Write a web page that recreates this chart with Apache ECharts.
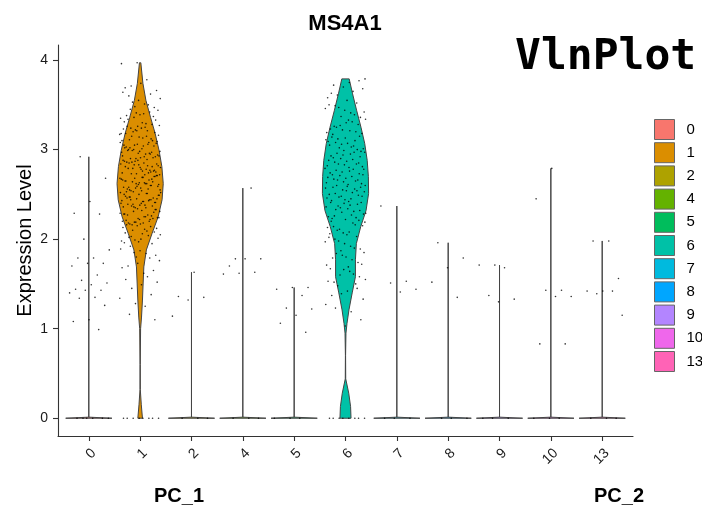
<!DOCTYPE html>
<html>
<head>
<meta charset="utf-8">
<script src="https://cdn.jsdelivr.net/npm/echarts@6/dist/echarts.min.js"></script>
<style>
  html, body { margin: 0; padding: 0; background: #fff; }
  #chart { width: 702px; height: 510px; }
</style>
</head>
<body>
<div id="chart"></div>
<script>
// Cluster identities along the x axis
const clusters = ['0', '1', '2', '4', '5', '6', '7', '8', '9', '10', '13'];
const clusterColors = ['#F8766D', '#DB8E00', '#AEA200', '#64B200', '#00BD5C', '#00C1A7',
                       '#00BADE', '#00A6FF', '#B385FF', '#EF67EB', '#FF63B6'];
const yTicks = [0, 1, 2, 3, 4];

// MS4A1 expression per cell, one array per cluster
const expr0 = [2.92, 2.68, 2.42, 2.29, 2.28, 2.00, 1.88, 1.79, 1.79, 1.73, 1.73, 1.70, 1.60, 1.54,
               1.51, 1.49, 1.44, 1.43, 1.43, 1.40, 1.35, 1.34, 1.26, 1.10, 1.08, 0.99, 0, 0, 0, 0, 0, 0];
const expr1 = [3.97, 3.96,
  3.78, 3.71, 3.66, 3.74, 3.69,
  3.62, 3.48, 3.57, 3.51, 3.60, 3.47, 3.55, 3.64, 3.50, 3.53,
  3.44, 3.30, 3.38, 3.28, 3.41, 3.35, 3.29, 3.45, 3.33, 3.39, 3.31, 3.42, 3.36, 3.27, 3.40, 3.34, 3.37,
  3.26, 3.10, 3.21, 3.15, 3.09, 3.24, 3.18, 3.12, 3.22, 3.17, 3.25, 3.11, 3.19, 3.14, 3.23, 3.08,
  3.20, 3.16, 3.13, 3.26, 3.10, 3.21, 3.18, 3.15, 3.24,
  3.07, 2.91, 3.02, 2.95, 3.05, 2.98, 2.92, 3.00, 3.04, 2.96, 2.93, 3.06, 2.99, 2.94, 3.01, 3.03,
  2.97, 2.90, 3.08, 2.95, 3.02, 2.92, 2.98, 3.05, 2.96, 3.00, 2.93, 3.04, 2.99, 2.91, 3.06, 2.97,
  2.89, 2.73, 2.84, 2.78, 2.81, 2.75, 2.87, 2.80, 2.72, 2.85, 2.77, 2.83, 2.88, 2.74, 2.79, 2.82,
  2.76, 2.86, 2.81, 2.73, 2.84, 2.78, 2.90, 2.75, 2.80, 2.87, 2.77, 2.83, 2.72, 2.85, 2.79, 2.76,
  2.88, 2.74, 2.82, 2.86,
  2.71, 2.54, 2.65, 2.60, 2.57, 2.68, 2.62, 2.55, 2.70, 2.63, 2.58, 2.66, 2.53, 2.61, 2.69, 2.56,
  2.64, 2.59, 2.67, 2.62, 2.54, 2.71, 2.57, 2.65, 2.60, 2.68, 2.55, 2.63, 2.58, 2.70, 2.61, 2.66,
  2.56, 2.64, 2.59, 2.69, 2.53, 2.67, 2.62,
  2.52, 2.35, 2.47, 2.41, 2.38, 2.50, 2.44, 2.36, 2.49, 2.42, 2.39, 2.46, 2.34, 2.43, 2.51, 2.37,
  2.45, 2.40, 2.48, 2.44, 2.35, 2.52, 2.38, 2.47, 2.41, 2.50, 2.36, 2.43, 2.39, 2.49, 2.42, 2.46,
  2.37, 2.45, 2.40, 2.51, 2.44,
  2.33, 2.17, 2.28, 2.22, 2.19, 2.31, 2.25, 2.18, 2.30, 2.23, 2.20, 2.27, 2.16, 2.24, 2.32, 2.21,
  2.26, 2.19, 2.29, 2.25, 2.17, 2.33, 2.22, 2.28, 2.20, 2.31, 2.24, 2.18, 2.27, 2.23,
  2.15, 1.98, 2.09, 2.03, 2.12, 2.00, 2.07, 2.14, 1.99, 2.05, 2.11, 2.02, 2.08, 1.97, 2.13, 2.04,
  2.10, 2.01, 2.06, 2.16,
  1.95, 1.80, 1.89, 1.84, 1.92, 1.82, 1.87, 1.96, 1.79, 1.85,
  1.76, 1.62, 1.70, 1.65, 1.73, 1.68,
  1.58, 1.45, 1.52, 1.49, 1.55,
  1.38, 1.28, 1.34, 1.25,
  1.16, 1.10,
  0, 0, 0, 0, 0, 0, 0, 0];
const expr2 = [1.63, 1.36, 1.35, 1.32, 1.14, 0, 0, 0];
const expr4 = [2.57, 1.78, 1.78, 1.78, 1.70, 1.63, 1.62, 1.61, 0, 0, 0];
const expr5 = [1.46, 1.46, 1.44, 1.37, 1.23, 1.22, 1.15, 1.06, 0.96, 0, 0, 0];
const expr6 = [3.79, 3.75, 3.72, 3.77,
  3.70, 3.58, 3.65, 3.61, 3.68, 3.55, 3.63,
  3.52, 3.37, 3.46, 3.41, 3.49, 3.36, 3.44, 3.50, 3.39, 3.47, 3.42,
  3.33, 3.17, 3.28, 3.22, 3.19, 3.31, 3.25, 3.18, 3.30, 3.23, 3.20, 3.27, 3.34, 3.21, 3.26,
  3.15, 2.99, 3.09, 3.04, 3.12, 3.01, 3.07, 3.14, 3.00, 3.06, 3.11, 3.03, 3.08, 2.98, 3.13, 3.05,
  3.10, 3.02,
  2.97, 2.80, 2.91, 2.85, 2.94, 2.82, 2.89, 2.96, 2.81, 2.87, 2.93, 2.84, 2.90, 2.79, 2.95, 2.86,
  2.92, 2.83, 2.88, 2.97, 2.84,
  2.78, 2.61, 2.72, 2.66, 2.75, 2.63, 2.70, 2.77, 2.62, 2.68, 2.74, 2.65, 2.71, 2.60, 2.76, 2.67,
  2.73, 2.64, 2.69, 2.78, 2.66, 2.72,
  2.59, 2.43, 2.54, 2.48, 2.57, 2.45, 2.51, 2.58, 2.44, 2.50, 2.56, 2.47, 2.53, 2.42, 2.58, 2.49,
  2.55, 2.46, 2.52, 2.60, 2.48, 2.54,
  2.41, 2.24, 2.35, 2.29, 2.38, 2.26, 2.32, 2.40, 2.25, 2.31, 2.37, 2.28, 2.34, 2.23, 2.39, 2.30,
  2.36, 2.27, 2.33, 2.41,
  2.22, 2.06, 2.16, 2.11, 2.19, 2.08, 2.14, 2.21, 2.07, 2.13, 2.18, 2.10, 2.15, 2.05, 2.20,
  2.03, 1.87, 1.97, 1.92, 2.00, 1.89, 1.95, 2.02, 1.90, 1.98,
  1.85, 1.69, 1.79, 1.74, 1.82, 1.71, 1.77, 1.84, 1.72, 1.80,
  1.67, 1.50, 1.60, 1.55, 1.64, 1.52, 1.58, 1.66, 1.53, 1.61,
  1.48, 1.33, 1.42, 1.37, 1.45, 1.39,
  1.27, 1.19, 1.23,
  1.10, 1.03,
  0, 0, 0, 0, 0, 0, 0, 0];
const expr7 = [2.37, 1.53, 1.51, 1.44, 1.41, 0, 0, 0];
const expr8 = [1.96, 1.79, 1.68, 1.52, 1.35, 0, 0, 0];
const expr9 = [1.71, 1.71, 1.68, 1.37, 1.33, 1.30, 0, 0, 0];
const expr10 = [2.79, 2.45, 1.43, 1.43, 1.36, 1.36, 0.83, 0.83, 0, 0, 0];
const expr13 = [1.98, 1.98, 1.56, 1.42, 1.42, 1.42, 1.39, 1.15, 0, 0, 0];

// Kernel density outlines (expression level, width relative to the widest point)
const density1 = [[0, 0.10], [0.15, 0.05], [0.32, 0.006], [0.6, 0.004], [1.0, 0.02], [1.13, 0.06],
  [1.32, 0.10], [1.51, 0.13], [1.69, 0.16], [1.88, 0.27], [2.06, 0.51], [2.25, 0.78], [2.44, 0.95],
  [2.62, 1.0], [2.81, 0.94], [2.99, 0.82], [3.18, 0.65], [3.36, 0.45], [3.55, 0.25], [3.74, 0.12],
  [3.97, 0.03]];
const density6 = [[0, 0.24], [0.13, 0.22], [0.28, 0.14], [0.44, 0.01], [0.7, 0.004], [0.95, 0.02],
  [1.06, 0.065], [1.21, 0.15], [1.40, 0.29], [1.58, 0.43], [1.77, 0.43], [1.95, 0.47], [2.14, 0.66],
  [2.32, 0.89], [2.51, 1.0], [2.70, 0.99], [2.88, 0.94], [3.07, 0.83], [3.25, 0.67], [3.44, 0.48],
  [3.63, 0.30], [3.79, 0.16]];

const exprByCluster = [expr0, expr1, expr2, expr4, expr5, expr6, expr7, expr8, expr9, expr10, expr13];
const densityByCluster = { 1: density1, 5: density6 };

const FONT = '"Liberation Sans", Arial, sans-serif';
const HALF = 0.45;      // half of the violin width in category units
const JITTER = 0.4;     // horizontal spread of the cell points

// Clusters that are almost all zero: a flat spike at 0 and a thin line up to the top value
function outlineFor(ci) {
  if (densityByCluster[ci]) return densityByCluster[ci];
  const top = Math.max(...exprByCluster[ci]);
  return [[0, 1], [0.012, 0], [top, 0]];
}

function violinRenderer(ci) {
  return function (params, api) {
    const prof = outlineFor(ci);
    const pts = [];
    for (let k = 0; k < prof.length; k++) pts.push(api.coord([ci + prof[k][1] * HALF, prof[k][0]]));
    for (let k = prof.length - 1; k >= 0; k--) pts.push(api.coord([ci - prof[k][1] * HALF, prof[k][0]]));
    return {
      type: 'polygon',
      shape: { points: pts },
      style: { fill: clusterColors[ci], stroke: '#444', lineWidth: 1 }
    };
  };
}

// Deterministic horizontal jitter for the cell points
function jitter(j, ci) {
  const u = (j * 0.6180339887 + ci * 0.137 + 0.29) % 1;
  return (u - 0.5) * 2 * JITTER;
}

const pointData = [];
exprByCluster.forEach((vals, ci) => {
  vals.forEach((v, j) => pointData.push([ci + jitter(j, ci), v]));
});

const violinSeries = clusters.map((name, ci) => ({
  name: name,
  type: 'custom',
  coordinateSystem: 'cartesian2d',
  itemStyle: { color: clusterColors[ci] },
  renderItem: violinRenderer(ci),
  data: [[ci, 0]],
  z: 2,
  silent: true
}));

const tickIdx = clusters.map((c, i) => i);

const option = {
  animation: false,
  backgroundColor: '#fff',
  textStyle: { fontFamily: FONT },
  grid: { left: 58, right: 69, top: 45, bottom: 74 },
  xAxis: {
    type: 'value',
    min: -0.6,
    max: 10.6,
    axisLine: { show: true, onZero: false, lineStyle: { color: '#333', width: 1.1 } },
    axisTick: { show: true, length: 5, customValues: tickIdx, lineStyle: { color: '#333', width: 1.1 } },
    axisLabel: {
      customValues: tickIdx,
      formatter: (v) => clusters[Math.round(v)],
      rotate: 45,
      verticalAlign: 'top',
      margin: 10,
      fontSize: 14,
      color: '#1a1a1a',
      fontFamily: FONT
    },
    splitLine: { show: false }
  },
  yAxis: {
    type: 'value',
    min: -0.1985,
    max: 4.1685,
    name: 'Expression Level',
    nameLocation: 'middle',
    nameGap: 23,
    nameMoveOverlap: false,
    nameTextStyle: { fontSize: 20, color: '#000', fontFamily: FONT },
    axisLine: { show: true, onZero: false, lineStyle: { color: '#333', width: 1.1 } },
    axisTick: { show: true, length: 5, customValues: yTicks, lineStyle: { color: '#333', width: 1.1 } },
    axisLabel: { customValues: yTicks, margin: 10, fontSize: 14, color: '#1a1a1a', fontFamily: FONT },
    splitLine: { show: false }
  },
  legend: {
    data: clusters,
    orient: 'vertical',
    left: 654,
    top: 119,
    padding: 0,
    itemWidth: 20,
    itemHeight: 20,
    itemGap: 2.2,
    icon: 'rect',
    itemStyle: { borderColor: '#666', borderWidth: 1 },
    textStyle: { fontSize: 15, color: '#000', fontFamily: FONT, padding: [0, 0, 0, 7] },
    selectedMode: false
  },
  graphic: [
    { type: 'text', x: 345, y: 24, style: { text: 'MS4A1', font: 'bold 22px ' + FONT, fill: '#000', align: 'center', verticalAlign: 'middle' } },
    { type: 'text', x: 515, y: 36, style: { text: 'VlnPlot', font: 'bold 43px "DejaVu Sans Mono", monospace', fill: '#000' } },
    { type: 'text', x: 179, y: 496, style: { text: 'PC_1', font: 'bold 20px ' + FONT, fill: '#000', align: 'center', verticalAlign: 'middle' } },
    { type: 'text', x: 619, y: 496, style: { text: 'PC_2', font: 'bold 20px ' + FONT, fill: '#000', align: 'center', verticalAlign: 'middle' } }
  ],
  series: violinSeries.concat([{
    name: 'cells',
    type: 'scatter',
    data: pointData,
    symbol: 'circle',
    symbolSize: 1.6,
    itemStyle: { color: '#000' },
    z: 5,
    silent: true
  }])
};

const chart = echarts.init(document.getElementById('chart'), null, { renderer: 'canvas' });
chart.setOption(option);
</script>
</body>
</html>
